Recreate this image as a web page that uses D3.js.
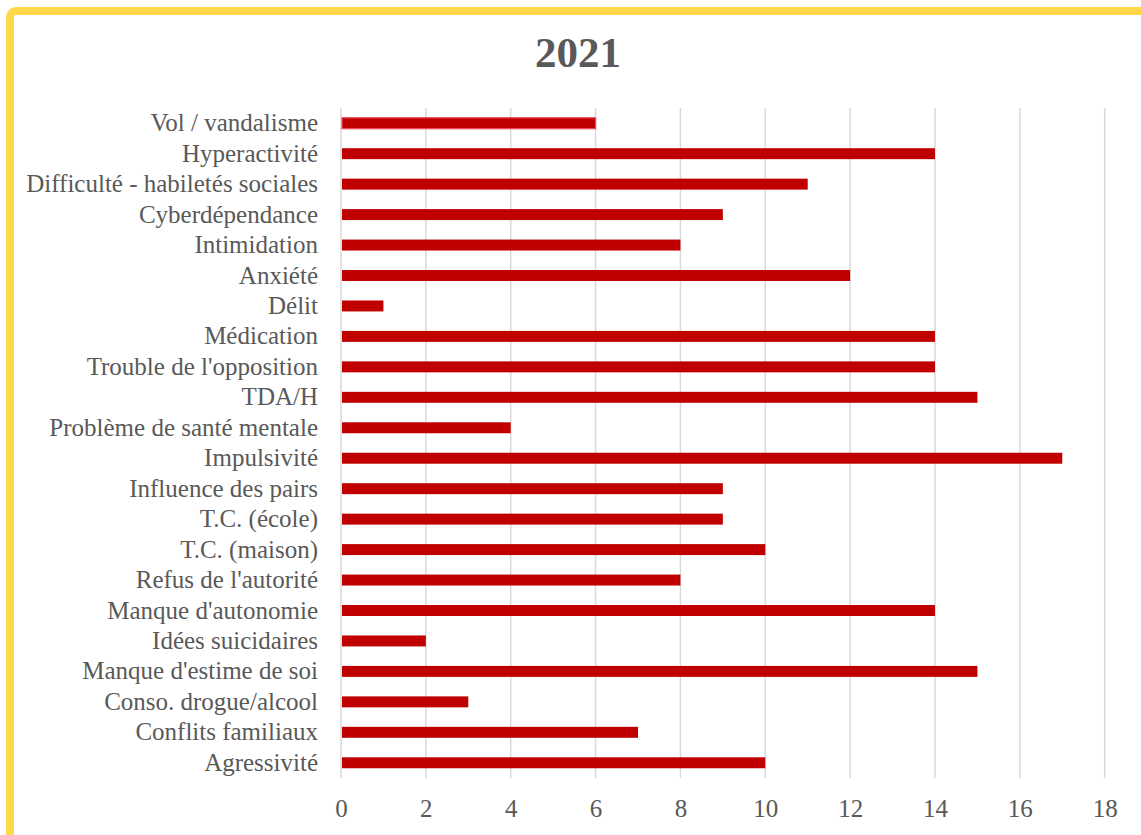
<!DOCTYPE html>
<html>
<head>
<meta charset="utf-8">
<script src="https://cdn.jsdelivr.net/npm/d3@7"></script>
<style>
  html, body { margin: 0; padding: 0; background: #fff; }
  svg { display: block; }
</style>
</head>
<body>
<svg id="chart" width="1141" height="835"></svg>
<script>
// Categories, top to bottom
const categories = [
  "Vol / vandalisme",
  "Hyperactivité",
  "Difficulté - habiletés sociales",
  "Cyberdépendance",
  "Intimidation",
  "Anxiété",
  "Délit",
  "Médication",
  "Trouble de l'opposition",
  "TDA/H",
  "Problème de santé mentale",
  "Impulsivité",
  "Influence des pairs",
  "T.C. (école)",
  "T.C. (maison)",
  "Refus de l'autorité",
  "Manque d'autonomie",
  "Idées suicidaires",
  "Manque d'estime de soi",
  "Conso. drogue/alcool",
  "Conflits familiaux",
  "Agressivité"
];
const values = [6, 14, 11, 9, 8, 12, 1, 14, 14, 15, 4, 17, 9, 9, 10, 8, 14, 2, 15, 3, 7, 10];
const xTicks = [0, 2, 4, 6, 8, 10, 12, 14, 16, 18];
const title = "2021";

const svg = d3.select("#chart");
const W = 1141, H = 835;

// Yellow frame
svg.append("rect")
  .attr("x", 10).attr("y", 11)
  .attr("width", W + 20).attr("height", H + 20)
  .attr("rx", 6)
  .attr("fill", "#fff")
  .attr("stroke", "#FFD84A")
  .attr("stroke-width", 8);

const plot = { left: 341, right: 1104.7, top: 108, bottom: 778 };

const x = d3.scaleLinear().domain([0, 18]).range([plot.left, plot.right]);
const y = d3.scaleBand().domain(categories).range([plot.top, plot.bottom]).paddingInner(0.64).paddingOuter(0.32);

const serif = "'Liberation Serif', 'DejaVu Serif', serif";

// Title
svg.append("text")
  .attr("x", 578).attr("y", 67)
  .attr("text-anchor", "middle")
  .attr("font-family", serif)
  .attr("font-weight", "bold")
  .attr("font-size", 43)
  .attr("fill", "#595959")
  .text(title);

// Vertical gridlines
svg.append("g")
  .selectAll("line")
  .data(xTicks)
  .join("line")
  .attr("x1", d => x(d)).attr("x2", d => x(d))
  .attr("y1", plot.top).attr("y2", plot.bottom)
  .attr("stroke", "#D9D9D9")
  .attr("stroke-width", 1.5);

// Bars
svg.append("g")
  .selectAll("rect")
  .data(categories.map((c, i) => ({ c, v: values[i], i })))
  .join("rect")
  .attr("x", x(0) + 1)
  .attr("y", d => y(d.c))
  .attr("width", d => x(d.v) - x(0) - 1)
  .attr("height", y.bandwidth())
  .attr("fill", "#C00000")
  .attr("stroke", d => d.i === 0 ? "#F0485A" : "none")
  .attr("stroke-width", d => d.i === 0 ? 1.2 : 0);

// Category axis labels
const yAxis = d3.axisLeft(y).tickSize(0).tickPadding(23);
const gy = svg.append("g").attr("transform", `translate(${plot.left},0)`).call(yAxis);
gy.select(".domain").remove();
gy.selectAll("text")
  .attr("font-family", serif)
  .attr("font-size", 25)
  .attr("fill", "#595959");

// Value axis labels
const xAxis = d3.axisBottom(x).tickValues(xTicks).tickSize(0).tickPadding(21);
const gx = svg.append("g").attr("transform", `translate(0,${plot.bottom})`).call(xAxis);
gx.select(".domain").remove();
gx.selectAll("text")
  .attr("font-family", serif)
  .attr("font-size", 25)
  .attr("fill", "#595959");
</script>
</body>
</html>
